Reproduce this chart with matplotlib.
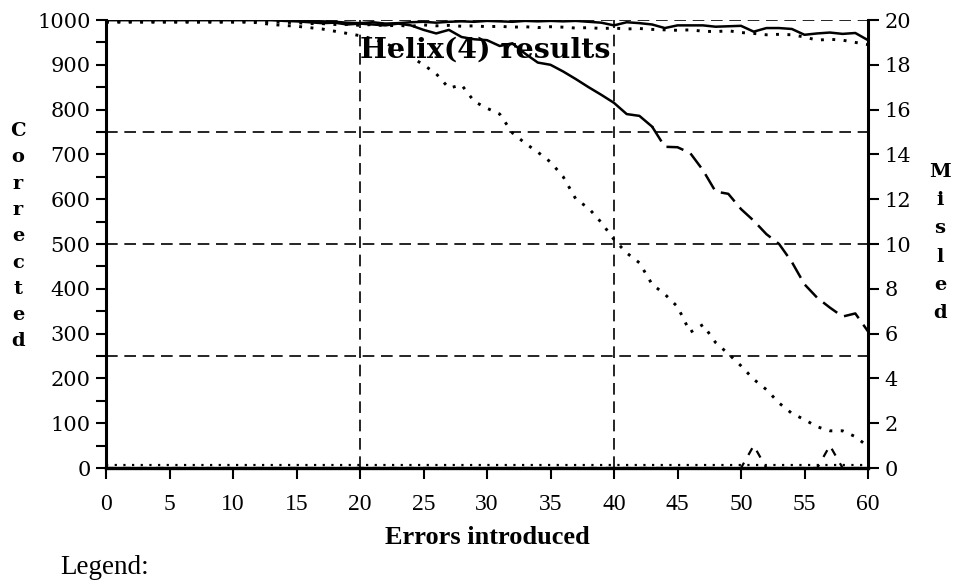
import matplotlib
matplotlib.use("Agg")
import matplotlib.pyplot as plt
from matplotlib.ticker import MultipleLocator

# ---------------- data ----------------
errors = list(range(0, 61))

corrected_solid = [1000, 1000, 1000, 1000, 1000, 1000, 1000, 1000, 1000, 1000,
                   1000, 1000, 1000, 1000, 1000, 1000, 998, 997, 996, 994,
                   993, 995, 992, 993, 995, 996, 994, 996, 997, 996,
                   998, 997, 996, 998, 997, 998, 997, 998, 996, 994,
                   988, 995, 993, 990, 982, 988, 988, 988, 985, 986,
                   987, 974, 982, 982, 980, 967, 970, 972, 969, 971,
                   955]

corrected_dotted_top = [997, 997, 997, 997, 997, 997, 997, 997, 997, 997,
                        997, 997, 997, 996, 995, 994, 992, 992, 990, 990,
                        988, 990, 987, 988, 986, 989, 987, 988, 986, 987,
                        985, 986, 984, 985, 983, 985, 984, 982, 983, 981,
                        982, 980, 981, 979, 978, 977, 978, 975, 974, 976,
                        972, 970, 967, 968, 967, 962, 955, 957, 955, 950,
                        945]

corrected_dashed = [1000, 1000, 1000, 1000, 1000, 1000, 1000, 1000, 1000, 1000,
                    1000, 1000, 1000, 1000, 998, 997, 995, 993, 994, 990,
                    992, 990, 988, 992, 988, 978, 970, 978, 962, 957,
                    955, 942, 948, 925, 905, 900, 885, 868, 850, 833,
                    815, 790, 786, 762, 717, 716, 703, 665, 617, 612,
                    578, 552, 522, 500, 460, 410, 380, 358, 338, 345,
                    305]

corrected_dotted = [995, 995, 995, 995, 995, 995, 995, 995, 995, 995,
                    995, 995, 994, 990, 988, 986, 983, 980, 975, 970,
                    965, 958, 948, 935, 918, 900, 880, 848, 855, 818,
                    803, 790, 748, 725, 705, 683, 650, 600, 580, 548,
                    510, 480, 458, 410, 388, 360, 303, 320, 280, 255,
                    228, 198, 175, 145, 122, 108, 92, 83, 83, 70,
                    48]

misled_solid = [0] * 61
misled_dotted = [0] * 61
misled_dashed = [0, 0, 0, 0, 0, 0, 0, 0, 0, 0,
                 0, 0, 0, 0, 0, 0, 0, 0, 0, 0,
                 0, 0, 0, 0, 0, 0, 0, 0, 0, 0,
                 0, 0, 0, 0, 0, 0, 0, 0, 0, 0,
                 0, 0, 0, 0, 0, 0, 0, 0, 0, 0,
                 0, 1, 0, 0, 0, 0, 0, 1, 0, 0,
                 0]

solid_until = 43           # the dashed curve looks solid up to here
grid_y = [250, 500, 750, 1000]
grid_x = [20, 40]
x_ticks = list(range(0, 61, 5))

title = "Helix(4) results"
xlabel = "Errors introduced"
left_label = "Corrected"
right_label = "Misled"
legend_text = "Legend:"

# ---------------- figure ----------------
W, H = 954, 585
fig = plt.figure(figsize=(W / 100, H / 100), dpi=100)
ax = fig.add_axes([106 / W, 1 - 468 / H, (868 - 106) / W, (468 - 20) / H])
ax2 = ax.twinx()

serif = ["DejaVu Serif"]
times = ["Liberation Serif"]

ax.set_xlim(0, 60)
ax.set_ylim(0, 1000)
ax2.set_ylim(0, 20)

grid_ls = (0, (7, 4))
for gy in grid_y:
    ax.axhline(gy, color="black", lw=1.2, ls=grid_ls, zorder=1)
for gx in grid_x:
    ax.axvline(gx, color="black", lw=1.2, ls=grid_ls, zorder=1)

dot_ls = (0, (1, 2.9))
dash_ls = (0, (7.0, 3.2))

ax.plot(errors, corrected_solid, color="black", lw=1.8, zorder=3)
ax.plot(errors, corrected_dotted_top, color="black", lw=2.1, ls=dot_ls, zorder=3)
ax.plot(errors[:solid_until + 1], corrected_dashed[:solid_until + 1],
        color="black", lw=1.8, zorder=3)
ax.plot(errors[solid_until:], corrected_dashed[solid_until:],
        color="black", lw=1.8, ls=dash_ls, zorder=3)
ax.plot(errors, corrected_dotted, color="black", lw=2.1, ls=dot_ls, zorder=3)

ax2.plot(errors, misled_solid, color="black", lw=1.5, zorder=3, clip_on=False)
ax2.plot(errors, [v + 0.12 for v in misled_dotted], color="black", lw=1.6,
         ls=dot_ls, zorder=3)
ax2.plot(errors, misled_dashed, color="black", lw=1.6, ls=(0, (3.5, 4)), zorder=3,
         clip_on=False)

# spines
for ax_ in (ax, ax2):
    ax_.spines["top"].set_visible(False)
    ax_.patch.set_visible(False)
ax.spines["left"].set_linewidth(2.2)
ax.spines["bottom"].set_linewidth(2.4)
ax2.spines["right"].set_linewidth(2.2)
ax.spines["right"].set_visible(False)
ax2.spines["left"].set_visible(False)
ax2.spines["bottom"].set_visible(False)

# ticks
ax.set_xticks(x_ticks)
ax.yaxis.set_major_locator(MultipleLocator(100))
ax.yaxis.set_minor_locator(MultipleLocator(50))
ax2.yaxis.set_major_locator(MultipleLocator(2))
ax.tick_params(axis="y", which="both", direction="out", length=7, width=1.5,
               pad=4, labelsize=15)
ax.tick_params(axis="x", direction="out", length=8, width=1.5, pad=11,
               labelsize=17)
ax2.tick_params(axis="y", direction="out", length=8, width=1.5, pad=4,
                labelsize=15)
for lab in ax.get_yticklabels() + ax2.get_yticklabels():
    lab.set_family(serif)
for lab in ax.get_xticklabels():
    lab.set_family(times)

# texts
def fx(px):
    return px / W

def fy(py):
    return 1 - py / H

fig.text(fx(485), fy(50), title, ha="center", va="center", family=serif,
         fontweight="bold", fontsize=20.5, zorder=5)
fig.text(fx(487), fy(538), xlabel, ha="center", va="center", family=times,
         fontweight="bold", fontsize=19)
fig.text(fx(60), fy(568), legend_text, ha="left", va="center", family=times,
         fontsize=19.5)

for i, ch in enumerate(left_label):
    fig.text(fx(18), fy(131 + i * 26.3), ch, ha="center", va="center",
             family=serif, fontweight="bold", fontsize=14)
for i, ch in enumerate(right_label):
    fig.text(fx(940), fy(172 + i * 28.2), ch, ha="center", va="center",
             family=serif, fontweight="bold", fontsize=14)

fig.savefig("out.png", dpi=100)
